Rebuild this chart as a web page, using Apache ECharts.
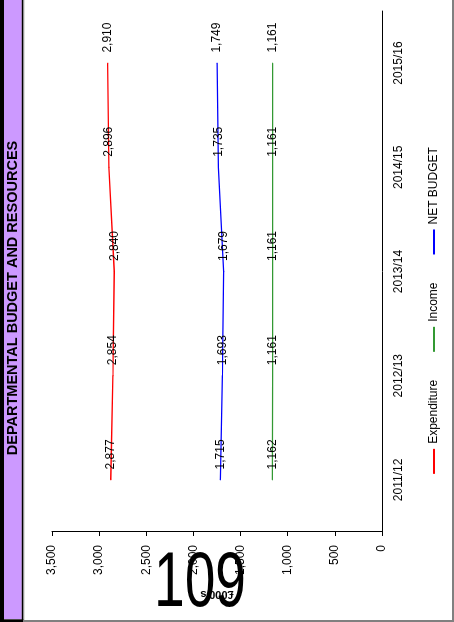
<!DOCTYPE html>
<html><head><meta charset="utf-8">
<script src="https://cdn.jsdelivr.net/npm/echarts@6/dist/echarts.min.js"></script>
<style>
html,body{margin:0;padding:0;width:454px;height:622px;overflow:hidden;background:#fff}
#wrap{position:absolute;left:0;top:0;width:622px;height:454px;transform-origin:0 0;transform:translate(0,622px) rotate(-90deg);}
</style></head><body>
<div id="wrap"></div>
<script>
const categories = ['2011/12', '2012/13', '2013/14', '2014/15', '2015/16'];
const expenditure = [2877, 2854, 2840, 2896, 2910];
const income = [1162, 1161, 1161, 1161, 1161];
const netBudget = [1715, 1693, 1679, 1735, 1749];
const seriesNames = ['Expenditure', 'Income', 'NET BUDGET'];
const valueMin = 0, valueMax = 3500, valueStep = 500;
const titleText = 'DEPARTMENTAL BUDGET AND RESOURCES';
const axisName = '£000\'s';
const pageNumber = '109';

const FONT = '"Liberation Sans", Arial, sans-serif';
function fmt(v) { return String(v).replace(/\B(?=(\d{3})+(?!\d))/g, ','); }

const chart = echarts.init(document.getElementById('wrap'), null, { renderer: 'canvas', width: 622, height: 454 });

function mkSeries(name, data, color) {
  return {
    name: name, type: 'line', data: data, symbol: 'circle', symbolSize: 1, showSymbol: true,
    lineStyle: { color: color, width: 1.3 }, itemStyle: { color: color },
    label: { show: true, position: 'right', distance: 10, color: '#000', fontSize: 12, fontFamily: FONT,
      formatter: p => fmt(p.value) },
    emphasis: { disabled: true }, animation: false
  };
}

chart.setOption({
  animation: false,
  backgroundColor: '#fff',
  grid: { left: 90, right: 11, top: 52, bottom: 72, containLabel: false },
  legend: {
    data: seriesNames, left: 'center', top: 423, itemWidth: 25, itemGap: 27,
    itemStyle: { opacity: 0 },
    textStyle: { fontSize: 12, fontFamily: FONT, color: '#000' }
  },
  xAxis: {
    type: 'category', data: categories, boundaryGap: true,
    axisLine: { lineStyle: { color: '#000', width: 1 } },
    axisTick: { inside: true, length: 4, lineStyle: { color: '#000' } },
    axisLabel: { color: '#000', fontSize: 12, fontFamily: FONT, margin: 11 },
    splitLine: { show: false }
  },
  yAxis: {
    type: 'value', min: valueMin, max: valueMax, interval: valueStep,
    name: axisName, nameLocation: 'middle', nameRotate: 90, nameGap: 57,
    nameTextStyle: { color: '#000', fontSize: 11, fontWeight: 'bold', fontFamily: FONT },
    axisLine: { show: true, lineStyle: { color: '#000', width: 1 } },
    axisTick: { show: true, length: 4, lineStyle: { color: '#000' } },
    axisLabel: { color: '#000', fontSize: 12, fontFamily: FONT, margin: 13, formatter: v => fmt(v) },
    splitLine: { show: false }
  },
  graphic: [
    { type: 'rect', shape: { x: 0, y: 0, width: 622, height: 4 }, style: { fill: '#000' }, silent: true },
    { type: 'rect', shape: { x: 3, y: 4, width: 619, height: 17.7 }, style: { fill: '#CC99FF' }, silent: true },
    { type: 'rect', shape: { x: 0, y: 21.7, width: 622, height: 1.6 }, style: { fill: '#000' }, silent: true },
    { type: 'rect', shape: { x: 0, y: 23.3, width: 622, height: 1 }, style: { fill: '#808080' }, silent: true },
    { type: 'rect', shape: { x: 0, y: 0, width: 2.7, height: 23.3 }, style: { fill: '#000' }, silent: true },
    { type: 'rect', shape: { x: 0, y: 23, width: 2, height: 431 }, style: { fill: '#808080' }, silent: true },
    { type: 'rect', shape: { x: 0, y: 452, width: 622, height: 2 }, style: { fill: '#808080' }, silent: true },
    { type: 'text', x: 324, y: 13, style: { text: titleText, fill: '#000', font: 'bold 14.5px ' + FONT, textAlign: 'center', textVerticalAlign: 'middle' }, silent: true },
    { type: 'text', x: 37, y: 200, rotation: -Math.PI / 2, scaleY: 1.4, z: 100, style: { text: pageNumber, fill: '#000', font: '55px ' + FONT, textAlign: 'center', textVerticalAlign: 'middle' }, silent: true }
  ],
  series: [
    mkSeries(seriesNames[0], expenditure, '#FF0000'),
    mkSeries(seriesNames[1], income, '#339933'),
    mkSeries(seriesNames[2], netBudget, '#0000FF')
  ]
});
</script>
</body></html>
